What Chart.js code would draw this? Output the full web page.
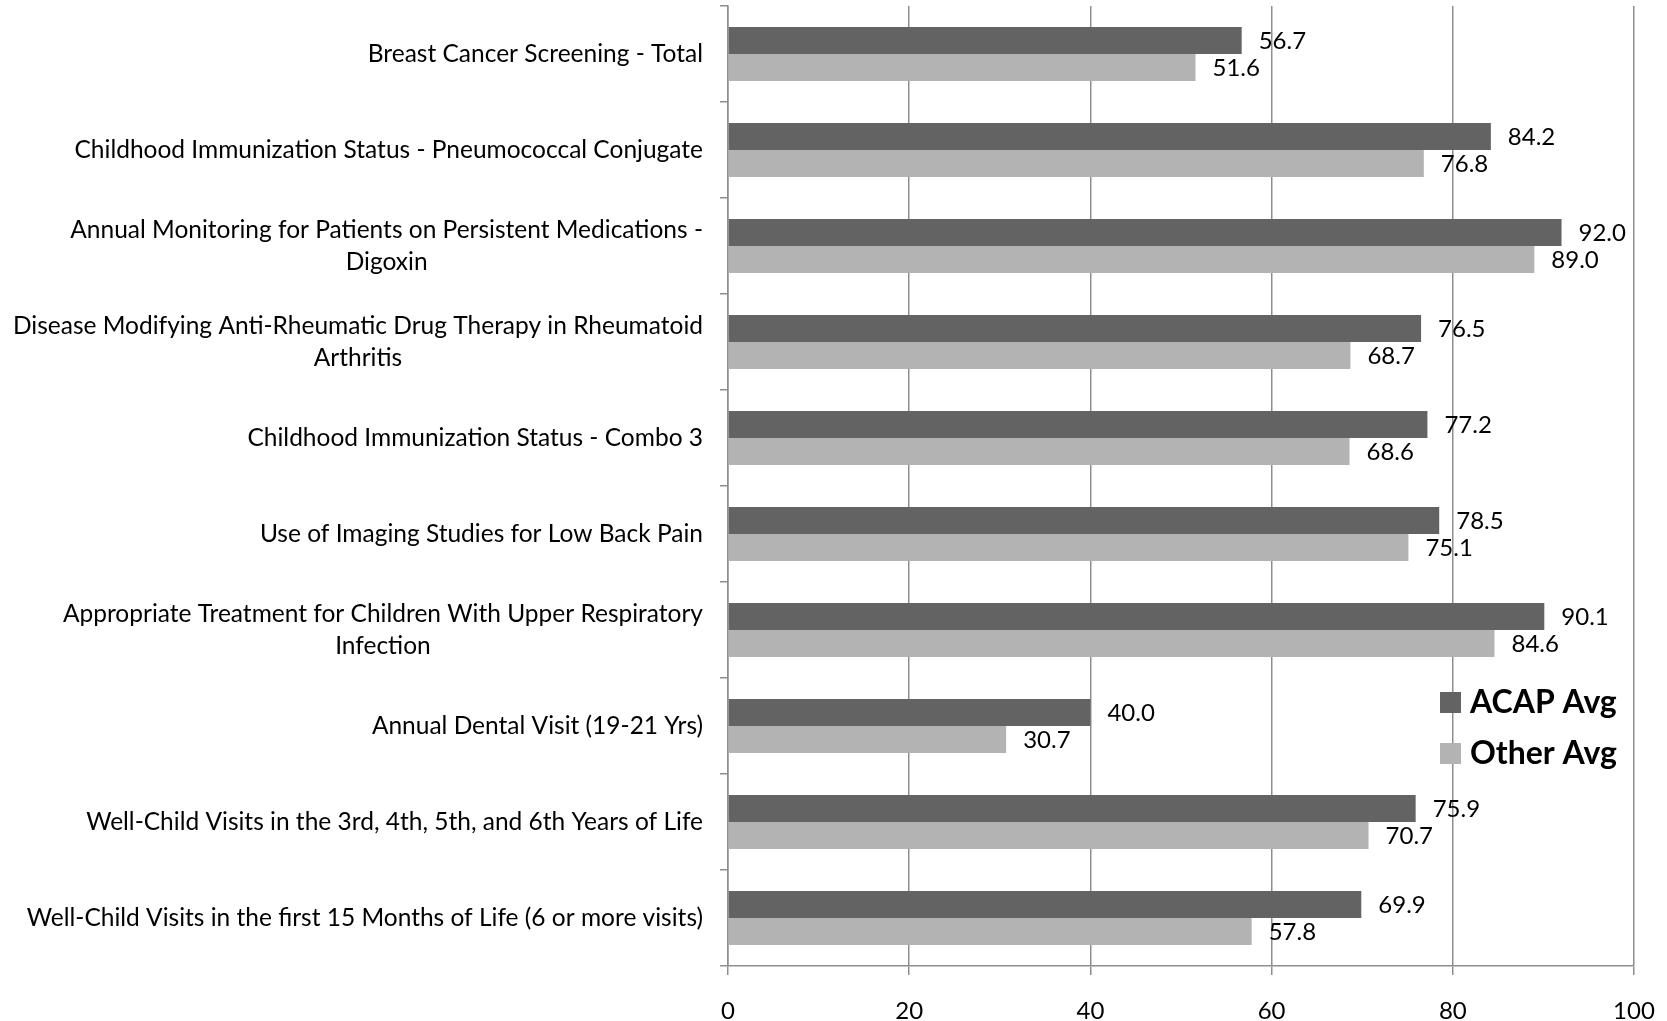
<!DOCTYPE html>
<html>
<head>
<meta charset="utf-8">
<script src="https://cdn.jsdelivr.net/npm/chart.js@4.4.1/dist/chart.umd.min.js"></script>
<style>
  html, body { margin: 0; padding: 0; background: #fff; }
  #wrap { width: 1667px; height: 1021px; position: relative; }
</style>
</head>
<body>
<div id="wrap"><canvas id="measuresChart"></canvas></div>
<script>
const categories = [
  ['Breast Cancer Screening - Total'],
  ['Childhood Immunization Status - Pneumococcal Conjugate'],
  ['Annual Monitoring for Patients on Persistent Medications -', 'Digoxin'],
  ['Disease Modifying Anti-Rheumatic Drug Therapy in Rheumatoid', 'Arthritis'],
  ['Childhood Immunization Status - Combo 3'],
  ['Use of Imaging Studies for Low Back Pain'],
  ['Appropriate Treatment for Children With Upper Respiratory', 'Infection'],
  ['Annual Dental Visit (19-21 Yrs)'],
  ['Well-Child Visits in the 3rd, 4th, 5th, and 6th Years of Life'],
  ['Well-Child Visits in the first 15 Months of Life (6 or more visits)']
];
const acapAvg  = [56.7, 84.2, 92.0, 76.5, 77.2, 78.5, 90.1, 40.0, 75.9, 69.9];
const otherAvg = [51.6, 76.8, 89.0, 68.7, 68.6, 75.1, 84.6, 30.7, 70.7, 57.8];
const xTicks   = [0, 20, 40, 60, 80, 100];

const FONT = 'Lato, "Open Sans", sans-serif';
const GRID = '#8e8e8e';

// category labels: first line right aligned, wrapped lines centred under it
const catLabels = {
  id: 'catLabels',
  afterDraw(chart) {
    const { ctx } = chart;
    const y = chart.scales.y;
    const right = chart.chartArea.left - 25;
    ctx.save();
    ctx.font = '24.5px ' + FONT;
    ctx.fillStyle = '#000';
    ctx.textBaseline = 'middle';
    const lineH = 32;
    categories.forEach((lines, i) => {
      const cy = y.getPixelForValue(i);
      const top = cy - (lines.length - 1) * lineH / 2;
      const w0 = ctx.measureText(lines[0]).width;
      lines.forEach((ln, k) => {
        if (k === 0) {
          ctx.textAlign = 'right';
          ctx.fillText(ln, right, top);
        } else {
          ctx.textAlign = 'center';
          ctx.fillText(ln, right - w0 / 2, top + k * lineH);
        }
      });
    });
    ctx.restore();
  }
};

const valueLabels = {
  id: 'valueLabels',
  afterDatasetsDraw(chart) {
    const { ctx } = chart;
    ctx.save();
    ctx.font = '24px ' + FONT;
    ctx.fillStyle = '#000';
    ctx.textAlign = 'left';
    ctx.textBaseline = 'middle';
    chart.data.datasets.forEach((ds, di) => {
      chart.getDatasetMeta(di).data.forEach((bar, i) => {
        ctx.fillText(ds.data[i].toFixed(1), bar.x + 17, bar.y + 1);
      });
    });
    ctx.restore();
  }
};

const sideLegend = {
  id: 'sideLegend',
  afterDraw(chart) {
    const { ctx } = chart;
    ctx.save();
    ctx.font = 'bold 32px ' + FONT;
    ctx.textBaseline = 'middle';
    ctx.textAlign = 'left';
    chart.data.datasets.forEach((ds, di) => {
      const cy = 702 + di * 51;
      ctx.fillStyle = ds.backgroundColor;
      ctx.fillRect(1440, cy - 10, 21, 21);
      ctx.fillStyle = '#000';
      ctx.fillText(ds.label, 1470, cy + 1);
    });
    ctx.restore();
  }
};

new Chart(document.getElementById('measuresChart'), {
  type: 'bar',
  data: {
    labels: categories.map(c => c.join(' ')),
    datasets: [
      { label: 'ACAP Avg',  data: acapAvg,  backgroundColor: '#636363' },
      { label: 'Other Avg', data: otherAvg, backgroundColor: '#b3b3b3' }
    ]
  },
  options: {
    indexAxis: 'y',
    responsive: true,
    maintainAspectRatio: false,
    animation: false,
    devicePixelRatio: 1,
    layout: { padding: { left: 720, right: 33, top: 6, bottom: 0 } },
    datasets: { bar: { categoryPercentage: 0.5625, barPercentage: 1.0 } },
    scales: {
      x: {
        min: 0, max: 100,
        afterBuildTicks: s => { s.ticks = xTicks.map(v => ({ value: v })); },
        afterFit: s => { s.height = 55; s.paddingLeft = 0; s.paddingRight = 0; },
        grid: { color: GRID, lineWidth: 1.5, tickLength: 9 },
        border: { color: GRID, width: 1.5 },
        ticks: { color: '#000', font: { family: FONT, size: 24 }, padding: 22 }
      },
      y: {
        grid: { offset: true, drawOnChartArea: false, color: GRID, lineWidth: 1.5, tickLength: 8 },
        border: { color: GRID, width: 1.5 },
        ticks: { display: false }
      }
    },
    plugins: { legend: { display: false }, tooltip: { enabled: false } }
  },
  plugins: [catLabels, valueLabels, sideLegend]
});
</script>
</body>
</html>
